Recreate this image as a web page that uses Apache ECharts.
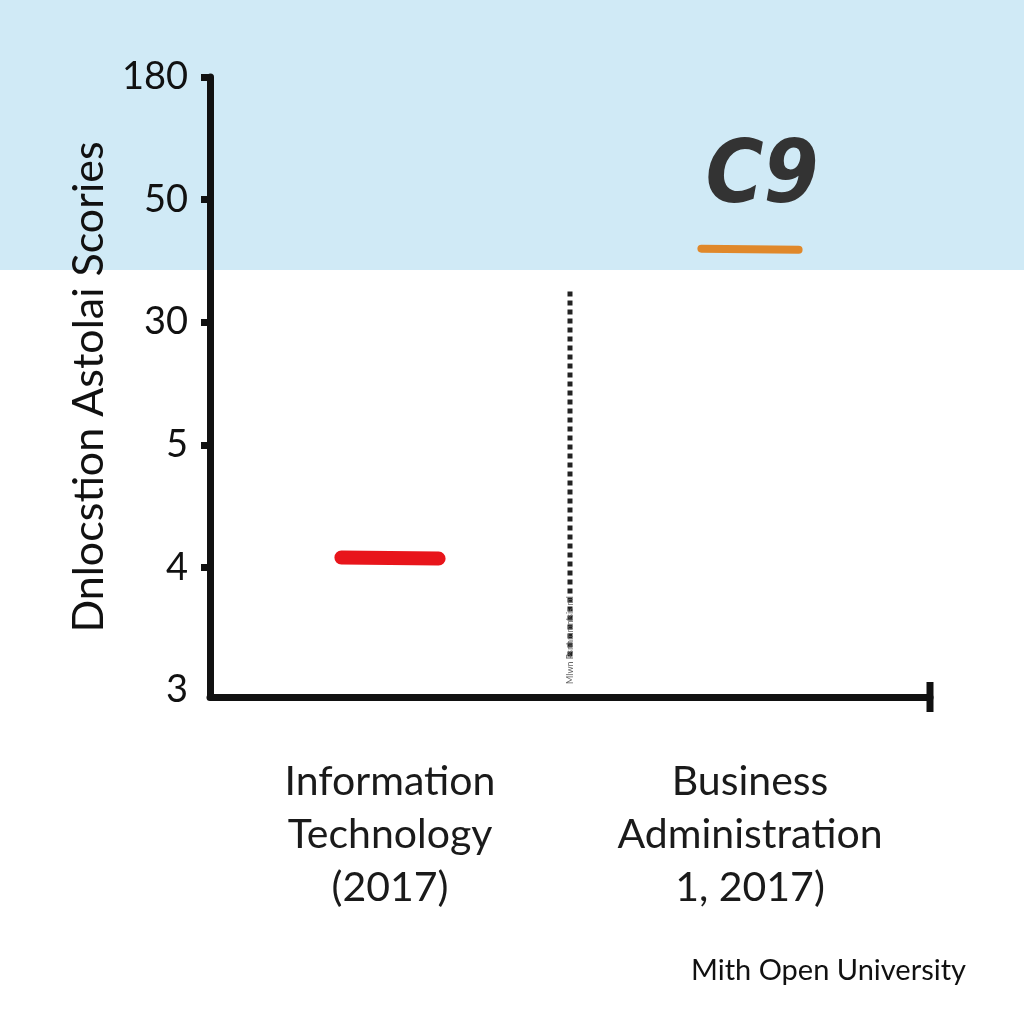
<!DOCTYPE html>
<html>
<head>
<meta charset="utf-8">
<script src="https://cdn.jsdelivr.net/npm/echarts@6/dist/echarts.min.js"></script>
<style>html,body{margin:0;padding:0;background:#fff}#main{width:1024px;height:1024px}</style>
</head>
<body>
<div id="main"></div>
<script>
// ---- data ----
const categories = ['Information\nTechnology\n(2017)', 'Business\nAdministration\n1, 2017)'];
const tickLabels = ['3', '4', '5', '30', '50', '180'];
const scoreValues = [4.08, 42];
const scoreLabels = ['', 'C9'];
const yAxisTitle = 'Dnlocstion Astolai Scories';
const footerText = 'Mith Open University';
const dividerNote = 'Mlwn Psnhmmnlsis ml';
const dividerTop = 35; // in score units

// map a score onto the evenly spaced tick index scale
const tickNums = tickLabels.map(Number);
function toAxis(v) {
  for (let i = 0; i < tickNums.length - 1; i++) {
    const a = tickNums[i], b = tickNums[i + 1];
    if (v >= a && v <= b) return i + (v - a) / (b - a);
  }
  return v < tickNums[0] ? 0 : tickNums.length - 1;
}

const chart = echarts.init(document.getElementById('main'));
const FONT = 'Lato';
const markColors = ['#e8151b', '#e0882a'];
const markWidths = [14, 8];

const option = {
  backgroundColor: '#ffffff',
  animation: false,
  graphic: [
    { type: 'rect', left: 0, top: 0, z: -100, shape: { width: 1024, height: 270 }, style: { fill: '#d0eaf6' } },
    { type: 'text', right: 58, top: 956, style: { text: footerText, font: '29px ' + FONT, fill: '#111' } }
  ],
  grid: { left: 210, right: 94, top: 77, bottom: 327 },
  xAxis: {
    type: 'category',
    data: categories,
    boundaryGap: true,
    axisLine: { onZero: false, lineStyle: { color: '#111', width: 7 }, symbol: ['none', 'rect'], symbolSize: [30, 7] },
    axisTick: { show: false },
    axisLabel: { margin: 58, fontFamily: FONT, fontSize: 41, lineHeight: 53, color: '#1a1a1a' },
    splitLine: { show: false }
  },
  yAxis: {
    type: 'value',
    min: -0.057,
    max: 5,
    name: yAxisTitle,
    nameLocation: 'middle',
    nameGap: 96,
    nameRotate: 90,
    nameTextStyle: { fontFamily: FONT, fontSize: 43, color: '#111' },
    axisLine: { show: true, lineStyle: { color: '#111', width: 7 } },
    axisTick: { show: true, length: 9, lineStyle: { width: 7, color: '#111' }, customValues: [1, 2, 3, 4, 5] },
    axisLabel: {
      customValues: [0, 1, 2, 3, 4, 5],
      margin: 22,
      fontFamily: FONT, fontSize: 38, color: '#111',
      formatter: v => tickLabels[Math.round(v)]
    },
    splitLine: { show: false }
  },
  series: [
    {
      type: 'custom',
      z: 5,
      data: [[0]],
      renderItem: function (params, api) {
        const top = api.coord([0, toAxis(dividerTop)]);
        const b0 = api.coord([0, 0.25]);
        const a = api.coord([0, 0]);
        const c = api.coord([1, 0]);
        const x = (a[0] + c[0]) / 2;
        return {
          type: 'group',
          children: [
            { type: 'line', shape: { x1: x, y1: top[1], x2: x, y2: b0[1] },
              style: { stroke: '#222', lineWidth: 5, lineDash: [5, 4] } },
            { type: 'text', x: x + 5, y: a[1] - 6, rotation: Math.PI / 2,
              style: { text: dividerNote, font: '9px ' + FONT, fill: '#666', align: 'left', verticalAlign: 'bottom' } }
          ]
        };
      }
    },
    {
      type: 'custom',
      z: 6,
      data: scoreValues.map((v, i) => [i, toAxis(v), scoreLabels[i]]),
      renderItem: function (params, api) {
        const i = params.dataIndex;
        const p = api.coord([api.value(0), api.value(1)]);
        const half = api.size([1, 0])[0] * 0.135;
        const children = [{
          type: 'line',
          shape: { x1: p[0] - half, y1: p[1], x2: p[0] + half, y2: p[1] + 1 },
          style: { stroke: markColors[i], lineWidth: markWidths[i], lineCap: 'round' }
        }];
        const lbl = scoreLabels[i];
        if (lbl) {
          children.push({
            type: 'text', x: p[0] + 12, y: p[1] - 26,
            style: { text: lbl, font: 'italic bold 88px "DejaVu Sans Condensed"', fill: '#333', align: 'center', verticalAlign: 'bottom' }
          });
        }
        return { type: 'group', children: children };
      }
    }
  ]
};
chart.setOption(option);
</script>
</body>
</html>
